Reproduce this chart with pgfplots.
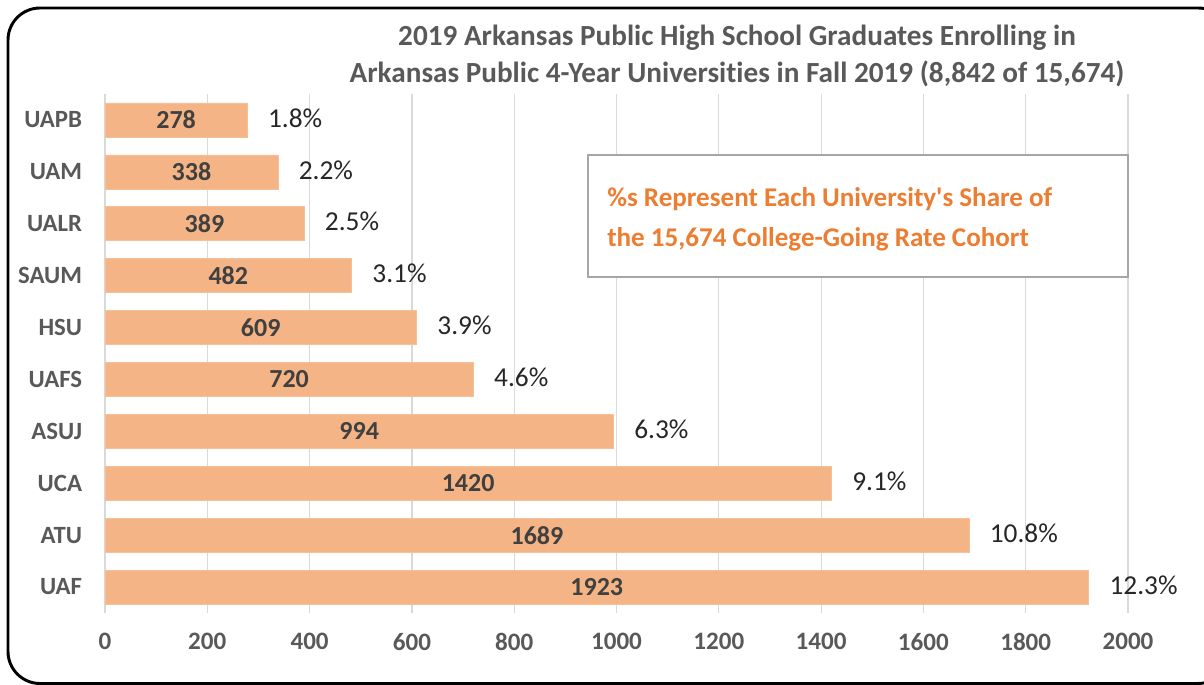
\documentclass[border=0pt]{standalone}
\usepackage{pgfplots}
\pgfplotsset{compat=1.18}
\usepackage{pgfplotstable}
\usepackage{fontspec}
\setmainfont{Carlito}[Ligatures=NoCommon]
\newfontfamily\notefont{Carlito}[Ligatures=NoCommon]

\definecolor{barfill}{HTML}{F4B485}
\definecolor{txtgray}{HTML}{595959}
\definecolor{valgray}{HTML}{404040}
\definecolor{pctgray}{HTML}{262626}
\definecolor{gridgray}{HTML}{D9D9D9}
\definecolor{boxgray}{HTML}{A6A6A6}
\definecolor{noteorange}{HTML}{ED7D31}

% pos = row from bottom, n = enrolled, pct = share of cohort
\pgfplotstableread{
pos name n pct
0 UAF 1923 12.3
1 ATU 1689 10.8
2 UCA 1420 9.1
3 ASUJ 994 6.3
4 UAFS 720 4.6
5 HSU 609 3.9
6 SAUM 482 3.1
7 UALR 389 2.5
8 UAM 338 2.2
9 UAPB 278 1.8
}\enrol

\begin{document}
\begin{tikzpicture}[x=0.75pt,y=0.75pt]
\path[use as bounding box] (0,0) rectangle (1204,685);

\begin{axis}[
    at={(78.75pt,54pt)}, anchor=south west,
    scale only axis,
    width=767.25pt, height=389.25pt,
    xbar, bar width=25.5pt,
    xmin=0, xmax=2000,
    ymin=-0.5, ymax=9.5,
    xtick={0,200,...,2000},
    ytick={0,...,9},
    yticklabels from table={\enrol}{name},
    xmajorgrids=true,
    grid style={draw=gridgray, line width=0.9pt},
    axis line style={draw=none},
    major tick length=0pt,
    tick style={draw=none},
    /pgf/number format/assume math mode=true,
    /pgf/number format/set thousands separator={},
    xticklabel style={font=\fontsize{18.8}{20}\selectfont\bfseries, text=txtgray, anchor=center, yshift=-21.5pt},
    yticklabel style={font=\fontsize{18.6}{20}\selectfont\bfseries, text=txtgray, anchor=east, inner sep=0pt, xshift=-17pt},
    clip=false,
]
\addplot[xbar, fill=barfill, draw=barfill!85!white] table[x=n, y=pos] {\enrol};
% bar values, centred in each bar
\addplot[only marks, mark=none,
    nodes near coords, point meta=explicit symbolic,
    nodes near coords align=center,
    every node near coord/.style={font=\fontsize{19.5}{21}\selectfont\bfseries, text=valgray, anchor=center}]
    table[x expr=\thisrow{n}/2, y=pos, meta=n] {\enrol};
% share labels right of each bar
\addplot[only marks, mark=none,
    nodes near coords={\pgfplotspointmeta\%}, point meta=explicit symbolic,
    every node near coord/.style={font=\fontsize{20.5}{22}\selectfont, text=pctgray, anchor=west, inner sep=0pt, xshift=15.5pt, yshift=1.5pt}]
    table[x=n, y=pos, meta=pct] {\enrol};
\end{axis}

% note box
\draw[boxgray, line width=0.9pt, fill=white] (588,530) rectangle (1128,408);
\node[anchor=base west, inner sep=0pt, text=noteorange, font=\notefont\fontsize{20.3}{22}\selectfont\bfseries] at (607,478) {\%s Represent Each University's Share of};
\node[anchor=base west, inner sep=0pt, text=noteorange, font=\notefont\fontsize{20.3}{22}\selectfont\bfseries] at (607,438) {the 15,674 College-Going Rate Cohort};

% title
\node[anchor=base, inner sep=0pt, text=txtgray, font=\fontsize{21.9}{24}\selectfont\bfseries] at (737,639) {2019 Arkansas Public High School Graduates Enrolling in};
\node[anchor=base, inner sep=0pt, text=txtgray, font=\fontsize{21.9}{24}\selectfont\bfseries] at (737,602) {Arkansas Public 4-Year Universities in Fall 2019 (8,842 of 15,674)};

% chart frame, cut by the page on the right
\draw[black, line width=2.2pt, rounded corners=24] (8,1.5) rectangle (1230,677);
\end{tikzpicture}
\end{document}
